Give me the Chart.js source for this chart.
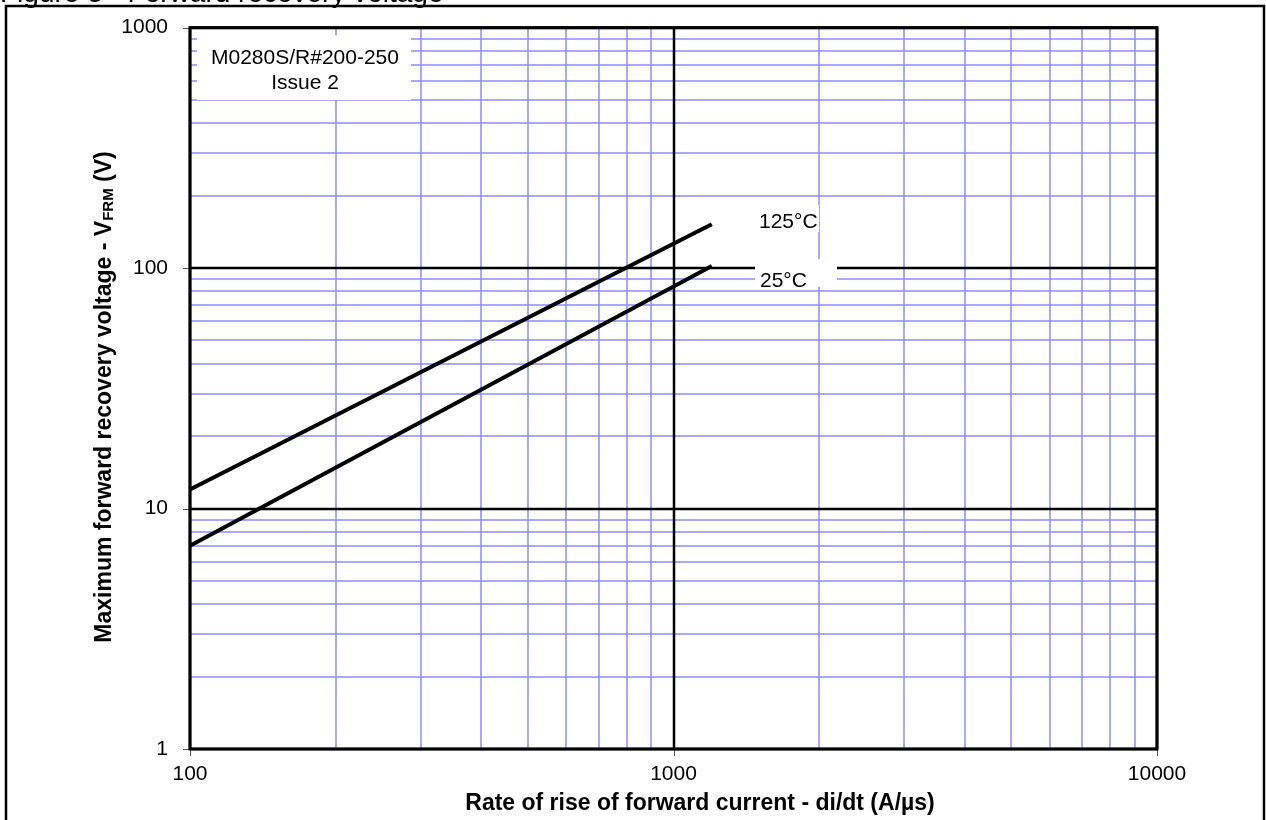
<!DOCTYPE html>
<html lang="en">
<head>
  <meta charset="UTF-8">
  <title>Figure 3 - Forward recovery voltage</title>
  <script src="https://cdn.jsdelivr.net/npm/chart.js"></script>
  <style>
    html, body { margin: 0; padding: 0; background: #fff; }
    canvas { display: block; }
  </style>
</head>
<body>
<canvas id="vfrmChart" width="1266" height="820"></canvas>

<script>
// === data ===
const diDt = [100, 1200];          // A/µs
const vfrm125 = [12, 152];         // V at 125°C
const vfrm25 = [7, 102];           // V at 25°C

const xTicks = [100, 200, 300, 400, 500, 600, 700, 800, 900,
                1000, 2000, 3000, 4000, 5000, 6000, 7000, 8000, 9000, 10000];
const yTicks = [1, 2, 3, 4, 5, 6, 7, 8, 9,
                10, 20, 30, 40, 50, 60, 70, 80, 90,
                100, 200, 300, 400, 500, 600, 700, 800, 900, 1000];

const FONT = "'Liberation Sans', Arial, sans-serif";
const GRID_BLUE = '#8c8cff';

function isDecade(v) {
  const l = Math.log10(v);
  return Math.abs(l - Math.round(l)) < 1e-9;
}

function toPoints(xs, ys) {
  return xs.map((x, i) => ({ x: x, y: ys[i] }));
}

// white boxed text like the original sheet
function boxedText(ctx, lines, box, font) {
  ctx.save();
  ctx.fillStyle = '#fff';
  ctx.fillRect(box.x, box.y, box.w, box.h);
  ctx.fillStyle = '#000';
  ctx.font = font;
  ctx.textBaseline = 'middle';
  lines.forEach(l => {
    ctx.textAlign = l.align || 'center';
    ctx.fillText(l.text, l.x, l.y);
  });
  ctx.restore();
}

// grid: blue minor lines, black decade lines, small outside ticks at decades
const gridPlugin = {
  id: 'logGrid',
  beforeDatasetsDraw(chart) {
    const { ctx, chartArea: a, scales } = chart;
    const xs = scales.x, ys = scales.y;
    ctx.save();
    [false, true].forEach(major => {
      ctx.strokeStyle = major ? '#000' : GRID_BLUE;
      ctx.lineWidth = major ? 2.5 : 1.5;
      ctx.beginPath();
      xTicks.filter(v => isDecade(v) === major).forEach(v => {
        const px = Math.round(xs.getPixelForValue(v));
        ctx.moveTo(px, a.top);
        ctx.lineTo(px, a.bottom);
      });
      yTicks.filter(v => isDecade(v) === major).forEach(v => {
        const py = Math.round(ys.getPixelForValue(v));
        ctx.moveTo(a.left, py);
        ctx.lineTo(a.right, py);
      });
      ctx.stroke();
    });
    ctx.strokeStyle = '#555';
    ctx.lineWidth = 1;
    ctx.beginPath();
    xTicks.filter(isDecade).forEach(v => {
      const px = Math.round(xs.getPixelForValue(v)) + 0.5;
      ctx.moveTo(px, a.bottom);
      ctx.lineTo(px, a.bottom + 7);
    });
    yTicks.filter(isDecade).forEach(v => {
      const py = Math.round(ys.getPixelForValue(v)) + 0.5;
      ctx.moveTo(a.left - 7, py);
      ctx.lineTo(a.left, py);
    });
    ctx.stroke();
    ctx.restore();
  }
};

const sheetPlugin = {
  id: 'sheet',
  afterDatasetsDraw(chart) {
    const ctx = chart.ctx;
    const f = '21px ' + FONT;
    boxedText(ctx, [
      { text: 'M0280S/R#200-250', x: 305, y: 58 },
      { text: 'Issue 2', x: 305, y: 83 }
    ], { x: 197, y: 35, w: 214, h: 65 }, f);
    boxedText(ctx, [{ text: '125°C', x: 759, y: 222, align: 'left' }],
      { x: 755, y: 205, w: 64, h: 27 }, f);
    boxedText(ctx, [{ text: '25°C', x: 760, y: 281, align: 'left' }],
      { x: 755, y: 259, w: 82, h: 28 }, f);
  },
  afterDraw(chart) {
    const ctx = chart.ctx;
    const a = chart.chartArea;
    ctx.save();
    // plot frame
    ctx.strokeStyle = '#000';
    ctx.lineWidth = 3;
    ctx.strokeRect(a.left, a.top, a.right - a.left, a.bottom - a.top);
    // outer page frame
    ctx.lineWidth = 2.5;
    ctx.strokeRect(6, 6, 1258, 830);

    // caption, mostly cut off at the top
    ctx.fillStyle = '#000';
    ctx.font = '28px ' + FONT;
    ctx.textAlign = 'left';
    ctx.textBaseline = 'alphabetic';
    ctx.fillText('Figure 3 - Forward recovery voltage', 0, 2);

    // y title with subscript
    ctx.translate(105, 397);
    ctx.rotate(-Math.PI / 2);
    const main = 'Maximum forward recovery voltage - V';
    const sub = 'FRM';
    const tail = ' (V)';
    const bigF = 'bold 23px ' + FONT;
    const smallF = 'bold 15px ' + FONT;
    ctx.font = bigF;
    const w1 = ctx.measureText(main).width;
    const w3 = ctx.measureText(tail).width;
    ctx.font = smallF;
    const w2 = ctx.measureText(sub).width;
    let x0 = -(w1 + w2 + w3) / 2;
    ctx.textBaseline = 'middle';
    ctx.font = bigF;
    ctx.fillText(main, x0, 0);
    ctx.font = smallF;
    ctx.fillText(sub, x0 + w1, 4);
    ctx.font = bigF;
    ctx.fillText(tail, x0 + w1 + w2, 0);

    ctx.restore();
    // x title
    ctx.save();
    ctx.fillStyle = '#000';
    ctx.font = 'bold 23px ' + FONT;
    ctx.textAlign = 'center';
    ctx.textBaseline = 'middle';
    ctx.fillText('Rate of rise of forward current - di/dt (A/µs)', 700, 804);
    ctx.restore();
  }
};

function axisTicks(list) {
  return function (scale) {
    scale.ticks = list.map(v => ({ value: v, major: isDecade(v) }));
  };
}

// Chart.js grid kept for its layout spacing, lines themselves drawn by gridPlugin
const hiddenGrid = {
  display: true,
  drawOnChartArea: false,
  color: 'rgba(0,0,0,0)',
  tickColor: 'rgba(0,0,0,0)',
  tickLength: 7
};

new Chart(document.getElementById('vfrmChart'), {
  type: 'scatter',
  data: {
    datasets: [
      {
        label: '125°C',
        data: toPoints(diDt, vfrm125),
        showLine: true,
        borderColor: '#000',
        borderWidth: 4,
        pointRadius: 0
      },
      {
        label: '25°C',
        data: toPoints(diDt, vfrm25),
        showLine: true,
        borderColor: '#000',
        borderWidth: 4,
        pointRadius: 0
      }
    ]
  },
  options: {
    responsive: false,
    animation: false,
    layout: { padding: { left: 0, right: 109, top: 27, bottom: 0 } },
    plugins: {
      legend: { display: false },
      tooltip: { enabled: false },
      title: { display: false }
    },
    scales: {
      x: {
        type: 'logarithmic',
        min: 100,
        max: 10000,
        afterBuildTicks: axisTicks(xTicks),
        afterFit: s => { s.height = 71; },
        grid: hiddenGrid,
        border: { display: false },
        ticks: {
          autoSkip: false,
          maxRotation: 0,
          padding: 6,
          color: '#000',
          font: { family: FONT, size: 21 },
          callback: v => isDecade(v) ? String(v) : ''
        }
      },
      y: {
        type: 'logarithmic',
        min: 1,
        max: 1000,
        afterBuildTicks: axisTicks(yTicks),
        afterFit: s => { s.width = 190; },
        grid: hiddenGrid,
        border: { display: false },
        ticks: {
          autoSkip: false,
          padding: 15,
          color: '#000',
          font: { family: FONT, size: 21 },
          callback: v => isDecade(v) ? String(v) : ''
        }
      }
    }
  },
  plugins: [gridPlugin, sheetPlugin]
});
</script>
</body>
</html>
